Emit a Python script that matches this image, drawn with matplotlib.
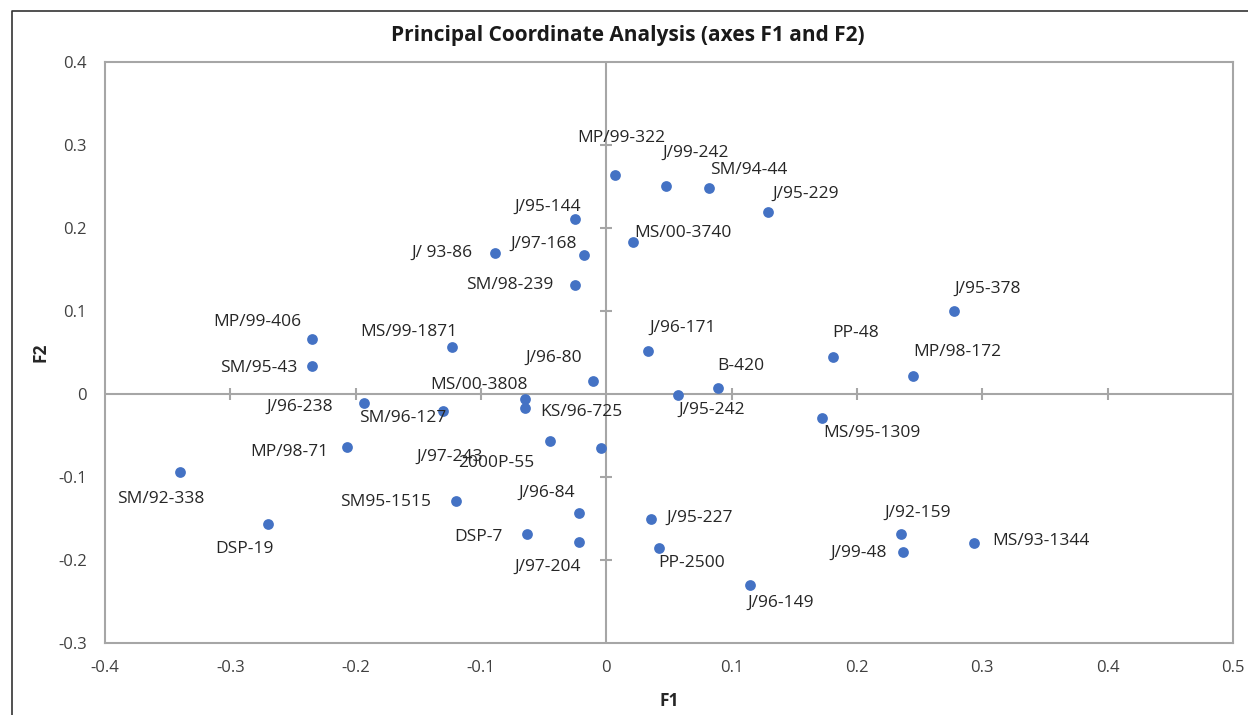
import matplotlib.pyplot as plt
from matplotlib.lines import Line2D

plt.rcParams['font.family'] = ['Open Sans', 'DejaVu Sans']

# PCoA coordinates
names = ['MP/99-322', 'J/99-242', 'SM/94-44', 'J/95-229', 'J/95-144', 'MS/00-3740',
         'J/97-168', 'J/ 93-86', 'SM/98-239', 'J/95-378', 'MP/99-406', 'MS/99-1871',
         'J/96-171', 'PP-48', 'MP/98-172', 'SM/95-43', 'J/96-80', 'B-420',
         'MS/00-3808', 'J/95-242', 'KS/96-725', 'J/96-238', 'SM/96-127', 'MS/95-1309',
         'J/97-243', '2000P-55', 'MP/98-71', 'SM/92-338', 'SM95-1515', 'J/96-84',
         'J/95-227', 'DSP-19', 'DSP-7', 'J/97-204', 'PP-2500', 'J/92-159',
         'MS/93-1344', 'J/99-48', 'J/96-149']
f1 = [0.007, 0.048, 0.082, 0.129, -0.025, 0.021,
      -0.018, -0.089, -0.025, 0.277, -0.235, -0.123,
      0.033, 0.181, 0.245, -0.235, -0.011, 0.089,
      -0.065, 0.057, -0.065, -0.193, -0.130, 0.172,
      -0.045, -0.004, -0.207, -0.340, -0.120, -0.022,
      0.036, -0.270, -0.063, -0.022, 0.042, 0.235,
      0.293, 0.237, 0.115]
f2 = [0.264, 0.251, 0.248, 0.219, 0.211, 0.183,
      0.167, 0.170, 0.131, 0.100, 0.066, 0.057,
      0.052, 0.045, 0.022, 0.034, 0.016, 0.007,
      -0.006, -0.001, -0.017, -0.011, -0.021, -0.029,
      -0.057, -0.065, -0.064, -0.094, -0.129, -0.143,
      -0.151, -0.157, -0.169, -0.178, -0.185, -0.169,
      -0.180, -0.190, -0.230]

x_ticks = [-0.4, -0.3, -0.2, -0.1, 0, 0.1, 0.2, 0.3, 0.4, 0.5]
y_ticks = [-0.3, -0.2, -0.1, 0, 0.1, 0.2, 0.3, 0.4]

# where each data label sits relative to its point (pixels, right / down)
label_shift = [(6, -37), (29, -33), (40, -18), (38, -18), (-27, -12), (50, -9),
               (-40, -12), (-53, 0), (-65, 0), (34, -22), (-54, -17), (-43, -15),
               (35, -23), (22, -24), (44, -24), (-53, 2), (-39, -23), (23, -22),
               (-46, -14), (34, 15), (57, 4), (-65, 4), (-41, 7), (50, 15),
               (-100, 16), (-105, 15), (-58, 5), (-19, 27), (-70, 1), (-32, -20),
               (48, -1), (-23, 25), (-49, 3), (-31, 25), (33, 15), (17, -21),
               (67, -2), (-45, 1), (30, 18)]

axis_grey = '#a6a6a6'
blue = '#4472C4'

fig = plt.figure(figsize=(12.48, 7.15), dpi=100)
ax = fig.add_axes([105 / 1248, 1 - 643 / 715, 1128 / 1248, 581 / 715])

# axes through the origin with small cross ticks
ax.axhline(0, color=axis_grey, lw=1.5, zorder=1)
ax.axvline(0, color=axis_grey, lw=1.5, zorder=1)
inner_x = [t for t in x_ticks if t not in (x_ticks[0], x_ticks[-1], 0)]
inner_y = [t for t in y_ticks if t not in (y_ticks[0], y_ticks[-1], 0)]
ax.plot(inner_x, [0] * len(inner_x), ls='none', marker='|', ms=8, mew=1.5, color=axis_grey, zorder=1)
ax.plot([0] * len(inner_y), inner_y, ls='none', marker='_', ms=8, mew=1.5, color=axis_grey, zorder=1)

ax.scatter(f1, f2, s=60, color=blue, zorder=3, linewidths=0)

for name, x, y, (dx, dy) in zip(names, f1, f2, label_shift):
    ax.annotate(name, (x, y), xytext=(dx, -dy), textcoords='offset pixels',
                ha='center', va='center', fontsize=12.5, color='#262626')

ax.set_xlim(-0.4, 0.5)
ax.set_ylim(-0.3, 0.4)
ax.set_xticks(x_ticks)
ax.set_yticks(y_ticks)
ax.set_xticklabels([f'{t:g}' for t in x_ticks])
ax.set_yticklabels([f'{t:g}' for t in y_ticks])
ax.tick_params(length=0, labelsize=12, labelcolor='#404040')
ax.tick_params(axis='x', pad=12)
ax.tick_params(axis='y', pad=13)
for s in ax.spines.values():
    s.set_color(axis_grey)
    s.set_linewidth(1.5)

ax.set_xlabel('F1', fontsize=12.5, fontweight='bold', color='#262626', labelpad=12)
ax.set_ylabel('F2', fontsize=12.5, fontweight='bold', color='#262626', labelpad=6)

fig.text(628 / 1248, 1 - 36 / 715, 'Principal Coordinate Analysis (axes F1 and F2)',
         ha='center', va='center', fontsize=15, fontweight='bold', color='#1a1a1a')

# chart-area border (left and top edges visible in the crop)
fig.add_artist(Line2D([12 / 1248, 12 / 1248, 1], [0, 1 - 11 / 715, 1 - 11 / 715],
                      transform=fig.transFigure, color='#333333', lw=1.2))

fig.savefig('out.png', dpi=100)
